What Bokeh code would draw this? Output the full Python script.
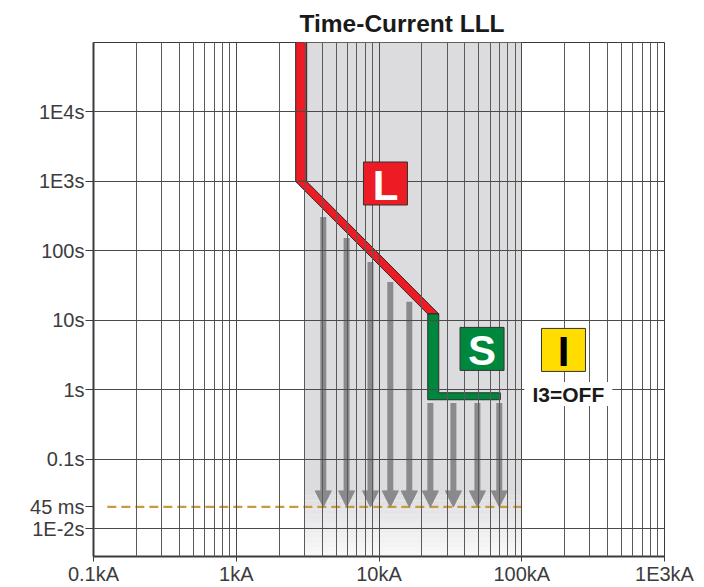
import numpy as np
from bokeh.plotting import figure
from bokeh.models import FixedTicker, Range1d, Arrow, NormalHead, ColumnDataSource
from bokeh.core.properties import value
from bokeh.embed import file_html
from bokeh.resources import INLINE

# ---------------- data ----------------
x_ticks = [0.1, 1, 10, 100, 1000]
x_tick_labels = ["0.1kA", "1kA", "10kA", "100kA", "1E3kA"]
y_ticks = [0.01, 0.1, 1, 10, 100, 1000, 10000]
y_tick_labels = ["1E-2s", "0.1s", "1s", "10s", "100s", "1E3s", "1E4s"]

# L (long-time) characteristic
l_pickup_kA = 2.85
l_knee_s = 1000.0
# S (short-time) characteristic
s_pickup_kA = 24.0
s_start_s = 12.4
s_delay_s = 0.81
s_end_kA = 70.8
# shaded current band
band_kA = [3.0, 100.0]
# downward arrows
arrow_kA = [4.07, 5.93, 8.72, 12.0, 16.3, 22.9, 33.2, 48.9, 69.6]
arrow_top_s = [308, 154, 69.5, 35.8, 18.5, 0.65, 0.65, 0.65, 0.65]
# 45 ms line
t_45ms_s = 0.0207
t_45ms_label = "45 ms"
line_45ms_kA = [0.125, 100.0]

FONT = "Liberation Sans"

p = figure(width=704, height=587, x_axis_type="log", y_axis_type="log",
           x_range=Range1d(0.1, 1000), y_range=Range1d(0.004, 1e5),
           output_backend="svg", toolbar_location=None,
           min_border_left=93, min_border_right=40, min_border_top=42, min_border_bottom=30)
p.background_fill_color = "white"
p.border_fill_color = "white"
p.outline_line_color = "#3a3a3a"
p.outline_line_width = 1

# title
p.title.text = "Time-Current LLL"
p.title.text_font = FONT
p.title.text_font_size = "24.5px"
p.title.text_font_style = "bold"
p.title.text_color = "#1a1a1a"
p.title.align = "left"
p.title.offset = 206
p.title.standoff = 11

# ticks / axes
x_minor = [m * 10.0 ** k for k in range(-1, 3) for m in range(2, 10)]
p.xaxis.ticker = FixedTicker(ticks=x_ticks, minor_ticks=x_minor)
p.xaxis.major_label_overrides = {t: l for t, l in zip(x_ticks, x_tick_labels)}
p.xaxis.major_label_text_font = FONT
p.xaxis.major_label_text_font_size = "20px"
p.xaxis.major_label_text_color = "#3c3c3c"
p.xaxis.major_tick_out = 5
p.xaxis.major_tick_in = 0
p.xaxis.minor_tick_out = 0
p.xaxis.minor_tick_in = 0
p.xaxis.major_label_standoff = 1
p.xaxis.axis_line_color = "#3a3a3a"
p.xaxis.axis_line_width = 2
p.xaxis.major_tick_line_color = "#3a3a3a"

p.yaxis.ticker = FixedTicker(ticks=y_ticks + [t_45ms_s])
ov = {t: l for t, l in zip(y_ticks, y_tick_labels)}
ov[t_45ms_s] = t_45ms_label
p.yaxis.major_label_overrides = ov
p.yaxis.major_label_text_font = FONT
p.yaxis.major_label_text_font_size = "20px"
p.yaxis.major_label_text_color = "#3c3c3c"
p.yaxis.major_tick_out = 8
p.yaxis.major_tick_in = 0
p.yaxis.minor_tick_out = 0
p.yaxis.minor_tick_in = 0
p.yaxis.major_label_standoff = 1
p.yaxis.axis_line_color = "#3a3a3a"
p.yaxis.axis_line_width = 2
p.yaxis.major_tick_line_color = "#3a3a3a"

p.xgrid.ticker = FixedTicker(ticks=x_ticks, minor_ticks=x_minor)
p.xgrid.grid_line_color = "#4a4a4a"
p.xgrid.minor_grid_line_color = "#5a5a5a"
p.xgrid.grid_line_alpha = 1
p.ygrid.ticker = FixedTicker(ticks=y_ticks)
p.ygrid.grid_line_color = "#4a4a4a"
p.xgrid.level = "guide"
p.ygrid.level = "guide"

# shaded band with fade at the bottom
fade_top = 0.035
p.quad(left=[band_kA[0]], right=[band_kA[1]], bottom=[fade_top], top=[1e5],
       fill_color="#dcdcde", line_color=None)
n = 14
edges = np.logspace(np.log10(0.004), np.log10(fade_top), n + 1)
c_top = np.array([0xdc, 0xdc, 0xde])
c_bot = np.array([0xf9, 0xf9, 0xf9])
cols = []
for i in range(n):
    f = (i + 0.5) / n
    c = c_bot + (c_top - c_bot) * f
    cols.append("#%02x%02x%02x" % tuple(int(round(v)) for v in c))
p.quad(left=[band_kA[0]] * n, right=[band_kA[1]] * n, bottom=edges[:-1], top=edges[1:],
       fill_color=cols, line_color=None)

# 45 ms dashed line
p.line(x=line_45ms_kA, y=[t_45ms_s, t_45ms_s], line_color="#c89a3e", line_width=2.2,
       line_dash="9 5")

# arrows
asrc = ColumnDataSource(dict(x=arrow_kA, y0=arrow_top_s, y1=[t_45ms_s] * len(arrow_kA)))
arr = Arrow(end=NormalHead(size=16, fill_color="#8a8a8c", line_color="#8a8a8c", line_width=1),
            x_start="x", y_start="y0", x_end="x", y_end="y1", source=asrc,
            line_color="#8a8a8c", line_width=6, level="glyph")
p.add_layout(arr)

# L and S bands (polygons built from the characteristic points)
hw = 0.0385   # half width of band in decades (x)
hwy = 0.05    # half width of band in decades (y)
xL = np.log10(l_pickup_kA)
xS = np.log10(s_pickup_kA)
xE = np.log10(s_end_kA)
yK = np.log10(l_knee_s)
yS = np.log10(s_start_s)
yT = np.log10(s_delay_s)
red_x = 10 ** np.array([xL - hw, xL + hw, xL + hw, xS + hw, xS - hw, xL - hw])
red_y = 10 ** np.array([5.5, 5.5, yK, yS, yS, yK])
grn_x = 10 ** np.array([xS - hw, xS + hw, xS + hw, xE, xE, xS - hw])
grn_y = 10 ** np.array([yS, yS, yT + hwy, yT + hwy, yT - hwy, yT - hwy])
p.patch(red_x, red_y, fill_color="#ed1c24", line_color="#2a2a2a", line_width=1)
p.patch(grn_x, grn_y, fill_color="#00873e", line_color="#2a2a2a", line_width=1)

# labels L / S / I boxes
box_x = [11.1, 52.7, 196.0]
box_y = [935.0, 3.89, 3.76]
box_fill = ["#ed1c24", "#00873e", "#ffdd00"]
box_text = ["L", "S", "I"]
box_text_color = ["white", "white", "black"]
p.rect(x=box_x, y=box_y, width=44, height=43, width_units="screen", height_units="screen",
       fill_color=box_fill, line_color="#333333", line_width=1, level="annotation")
p.text(x=box_x, y=box_y, text=box_text, text_color=box_text_color,
       text_font=value(FONT), text_font_style="bold", text_font_size="42px",
       text_align="center", text_baseline="middle", y_offset=2, level="annotation")

# I3=OFF
p.rect(x=[212.0], y=[0.876], width=88, height=24, width_units="screen", height_units="screen",
       fill_color="white", line_color=None, level="annotation")
p.text(x=[212.0], y=[0.876], text=["I3=OFF"], text_color="#1a1a1a",
       text_font=value(FONT), text_font_style="bold", text_font_size="21px",
       text_align="center", text_baseline="middle", y_offset=1, level="annotation")

open("out.html", "w").write(file_html(p, INLINE))
